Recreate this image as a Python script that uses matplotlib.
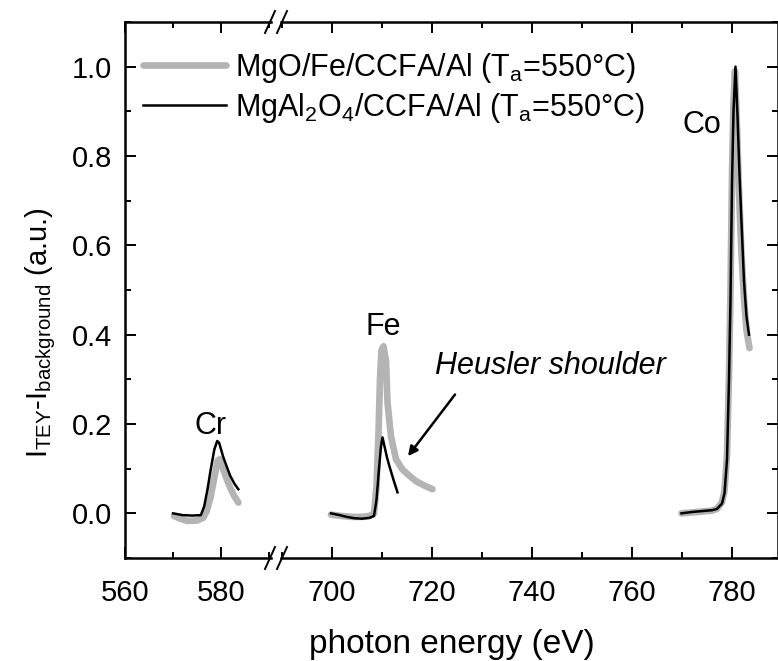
import numpy as np
import matplotlib.pyplot as plt
from matplotlib.lines import Line2D
from matplotlib.ticker import MultipleLocator

# フォント設定
plt.rcParams['font.family'] = ['Liberation Sans', 'DejaVu Sans']
plt.rcParams['mathtext.default'] = 'regular'

# Cr L3 edge
cr_x_black = [570.0, 572.0, 574.0, 575.8, 576.5, 577.2, 577.8, 578.6, 579.2, 579.6,
              580.4, 581.2, 581.9, 582.8, 583.6]
cr_y_black = [0.000, -0.004, -0.005, -0.004, 0.016, 0.055, 0.095, 0.143, 0.162, 0.158,
              0.128, 0.104, 0.084, 0.066, 0.054]
cr_x_gray = [570.2, 571.5, 573.0, 575.0, 576.3, 577.0, 577.8, 578.6, 579.3, 579.7,
             580.4, 581.2, 582.0, 582.8, 583.6]
cr_y_gray = [-0.006, -0.012, -0.017, -0.016, -0.010, 0.005, 0.035, 0.080, 0.118, 0.121,
             0.100, 0.076, 0.055, 0.038, 0.024]

# Fe L3 edge
fe_x_black = [699.8, 701.5, 703.0, 704.5, 706.0, 707.5, 708.4, 708.9, 709.4, 709.8,
              710.1, 710.5, 711.0, 711.5, 712.3, 713.1]
fe_y_black = [0.000, -0.004, -0.008, -0.011, -0.012, -0.010, -0.006, 0.030, 0.100, 0.150,
              0.170, 0.150, 0.125, 0.105, 0.075, 0.047]
fe_x_gray = [699.8, 702.0, 704.0, 706.0, 707.5, 708.4, 708.9, 709.3, 709.6, 709.9,
             710.3, 710.8, 711.1, 711.8, 712.8, 714.1, 715.5, 716.8, 718.5, 720.1]
fe_y_gray = [-0.003, -0.006, -0.008, -0.008, -0.006, 0.000, 0.060, 0.180, 0.300, 0.365,
             0.374, 0.340, 0.248, 0.172, 0.121, 0.098, 0.084, 0.072, 0.062, 0.054]

# Co L3 edge
co_x_black = [769.9, 772.0, 774.0, 776.0, 777.0, 778.0, 778.5, 779.0, 779.4, 779.7,
              780.0, 780.3, 780.7, 781.1, 781.5, 781.9, 782.4, 782.9, 783.4]
co_y_black = [0.000, 0.003, 0.005, 0.007, 0.010, 0.022, 0.045, 0.120, 0.300, 0.480,
              0.740, 0.900, 1.000, 0.890, 0.760, 0.650, 0.520, 0.440, 0.400]
co_x_gray = [769.9, 772.0, 774.0, 776.0, 777.0, 778.0, 778.5, 779.0, 779.4, 779.7,
             780.0, 780.3, 780.6, 781.0, 781.4, 781.9, 782.4, 782.9, 783.5]
co_y_gray = [0.000, 0.002, 0.004, 0.006, 0.010, 0.025, 0.050, 0.130, 0.310, 0.500,
             0.760, 0.920, 0.990, 0.860, 0.720, 0.580, 0.480, 0.410, 0.370]

label_gray = 'MgO/Fe/CCFA/Al (T$_a$=550°C)'
label_black = 'MgAl$_2$O$_4$/CCFA/Al (T$_a$=550°C)'

W, H = 778, 661
fig = plt.figure(figsize=(W / 100, H / 100), dpi=100)

# 途切れた横軸: 左右2つの軸
ax1 = fig.add_axes([125 / W, (H - 558) / H, (271 - 125) / W, (558 - 22) / H])
ax2 = fig.add_axes([281 / W, (H - 558) / H, (W - 281) / W, (558 - 22) / H])

gray = '#b4b4b4'
g1, = ax1.plot(cr_x_gray, cr_y_gray, color=gray, lw=4.8, solid_capstyle='round')
b1, = ax1.plot(cr_x_black, cr_y_black, color='black', lw=1.8)
ax2.plot(fe_x_gray, fe_y_gray, color=gray, lw=4.8, solid_capstyle='round')
ax2.plot(fe_x_black, fe_y_black, color='black', lw=1.8)
ax2.plot(co_x_gray, co_y_gray, color=gray, lw=4.8, solid_capstyle='round')
ax2.plot(co_x_black, co_y_black, color='black', lw=1.8)

ax1.set_xlim(560, 590.4)
ax2.set_xlim(689.8, 789.2)
for ax in (ax1, ax2):
    ax.set_ylim(-0.1, 1.1)
    ax.xaxis.set_major_locator(MultipleLocator(20))
    ax.xaxis.set_minor_locator(MultipleLocator(10))
    ax.yaxis.set_major_locator(MultipleLocator(0.2))
    ax.yaxis.set_minor_locator(MultipleLocator(0.1))
    for s in ax.spines.values():
        s.set_linewidth(1.8)
    ax.tick_params(which='both', direction='in', top=True, width=1.4, labelsize=21)
    ax.tick_params(which='major', length=8)
    ax.tick_params(which='minor', length=4.5)
    ax.tick_params(axis='x', pad=15)
    ax.tick_params(axis='y', pad=9)

ax1.spines['right'].set_visible(False)
ax2.spines['left'].set_visible(False)
ax1.tick_params(axis='y', which='both', right=False)
ax2.tick_params(axis='y', which='both', left=False, right=True, labelleft=False)
ax1.yaxis.set_major_formatter(plt.FormatStrFormatter('%.1f'))

ax1.set_ylabel('I$_{TEY}$-I$_{background}$ (a.u.)', fontsize=21)
ax1.yaxis.set_label_coords(-0.46, 0.42)
fig.text((125 + W) / 2 / W, 1 - 645 / H, 'photon energy (eV)', fontsize=24,
         ha='center', va='center')

# 軸の切れ目記号
for yp in (22, 558):
    for xp in (270, 282):
        fig.add_artist(Line2D([(xp - 5) / W, (xp + 5) / W],
                              [1 - (yp + 11) / H, 1 - (yp - 11) / H],
                              transform=fig.transFigure, color='black', lw=1.4))

# 注釈
ax1.text(577.9, 0.177, 'Cr', fontsize=22, ha='center', va='baseline')
ax2.text(710.2, 0.40, 'Fe', fontsize=22, ha='center', va='baseline')
ax2.text(774.0, 0.852, 'Co', fontsize=22, ha='center', va='baseline')
ax2.text(720.6, 0.311, 'Heusler shoulder', fontsize=22, style='italic',
         ha='left', va='baseline')
ax2.annotate('', xy=(715.2, 0.128), xytext=(724.6, 0.266),
             arrowprops=dict(arrowstyle='-|>', color='black', lw=1.8,
                             mutation_scale=14, shrinkA=0, shrinkB=0))

fig.legend([g1, b1], [label_gray, label_black], loc='upper left',
           bbox_to_anchor=(143 / W, 1 - 51 / H), frameon=False, fontsize=22,
           handlelength=2.7, handletextpad=0.3, borderpad=0, borderaxespad=0,
           labelspacing=0.2)

fig.savefig('out.png', dpi=100)
